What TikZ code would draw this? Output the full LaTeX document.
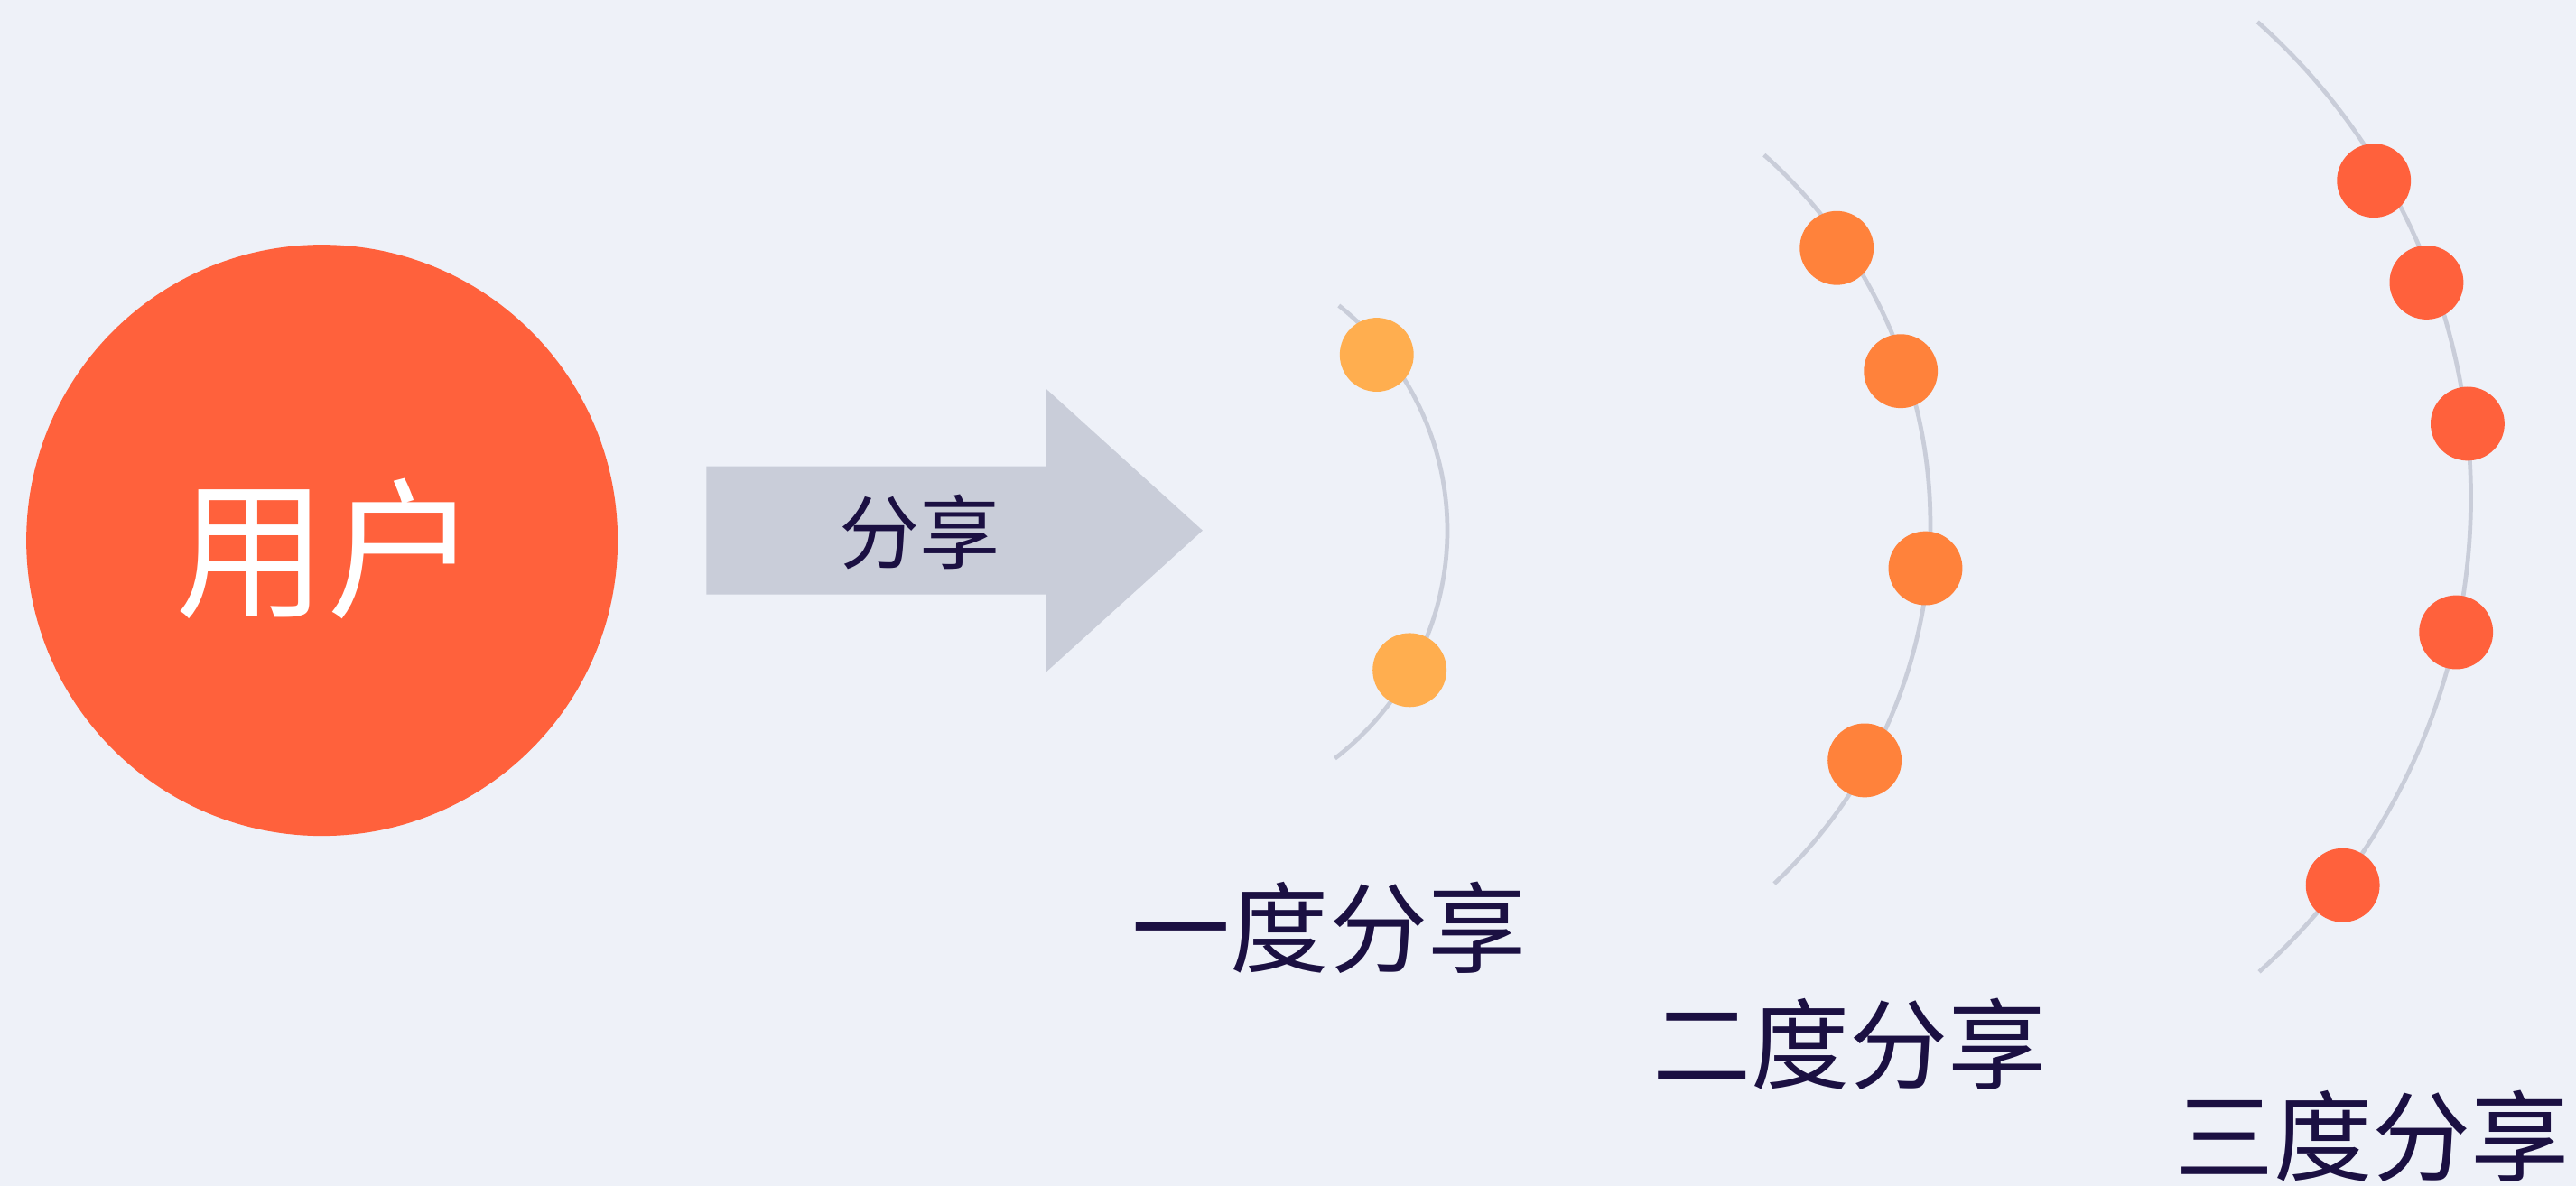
\documentclass[tikz,border=0pt]{standalone}
\usepackage{fontspec}
\setmainfont{Noto Sans CJK SC}
\definecolor{bgc}{HTML}{EEF1F8}
\definecolor{userc}{HTML}{FF613C}
\definecolor{arrowc}{HTML}{C9CDD9}
\definecolor{d1c}{HTML}{FFAE4F}
\definecolor{d2c}{HTML}{FF823B}
\definecolor{d3c}{HTML}{FF613C}
\definecolor{txtc}{HTML}{1B1042}
\begin{document}
\begin{tikzpicture}[x=0.5pt,y=-0.5pt,
  arcline/.style={draw=arrowc,line width=1.3pt},
  dot/.style={circle,inner sep=0pt,minimum size=22.5pt},
  lbl/.style={text=txtc,font=\fontsize{30pt}{33pt}\selectfont,inner sep=0pt}]
\fill[bgc] (0,0) rectangle (1568,722);
\useasboundingbox (0,0) rectangle (1568,722);
% user circle
\node[circle,fill=userc,minimum size=180pt,inner sep=0pt] (user) at (196,329) {};
\node[text=white,font=\fontsize{46pt}{50pt}\selectfont,inner sep=0pt] (usert) at (199,334) {用户};
% arrow
\fill[arrowc] (430,284) -- (637,284) -- (637,237) -- (732,323) -- (637,409) -- (637,362) -- (430,362) -- cycle;
\node[text=txtc,font=\fontsize{24.5pt}{27pt}\selectfont,inner sep=0pt] (share) at (560,324) {分享};
% arc centers
\coordinate (c1) at (706,323);
\coordinate (c2) at (875,319);
\coordinate (c3) at (1116,303);
% arcs
\draw[arcline] (c1) ++(51.5:87.5pt) arc[start angle=51.5,end angle=-52.5,radius=87.5pt];
\draw[arcline] (c2) ++(48.5:150pt) arc[start angle=48.5,end angle=-46.9,radius=150pt];
\draw[arcline] (c3) ++(48.3:194pt) arc[start angle=48.3,end angle=-48.1,radius=194pt];
% dots
\node[dot,fill=d1c] (a1) at (838,216) {};
\node[dot,fill=d1c] (a2) at (858,408) {};
\node[dot,fill=d2c] (b1) at (1118,151) {};
\node[dot,fill=d2c] (b2) at (1157,226) {};
\node[dot,fill=d2c] (b3) at (1172,346) {};
\node[dot,fill=d2c] (b4) at (1135,463) {};
\node[dot,fill=d3c] (e1) at (1445,110) {};
\node[dot,fill=d3c] (e2) at (1477,172) {};
\node[dot,fill=d3c] (e3) at (1502,258) {};
\node[dot,fill=d3c] (e4) at (1495,385) {};
\node[dot,fill=d3c] (e5) at (1426,539) {};
% labels
\node[lbl] (l1) at (809,565) {一度分享};
\node[lbl] (l2) at (1126,636) {二度分享};
\node[lbl] (l3) at (1444,692) {三度分享};
\end{tikzpicture}
\end{document}
